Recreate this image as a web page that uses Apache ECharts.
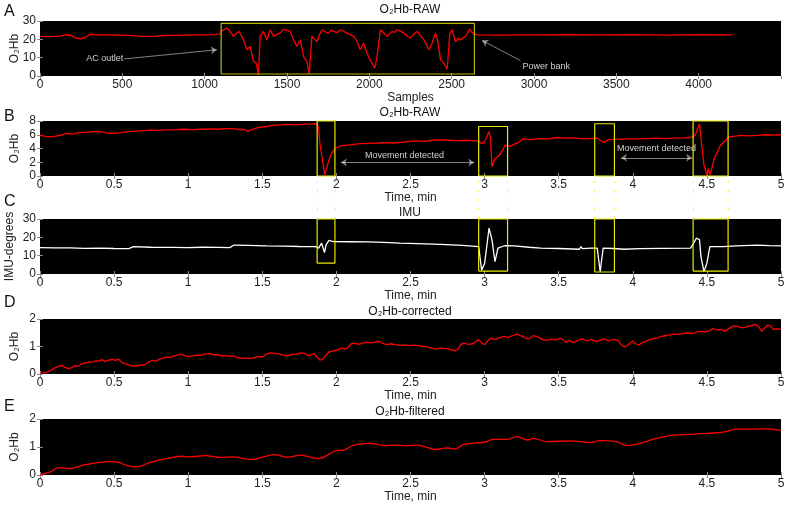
<!DOCTYPE html>
<html>
<head>
<meta charset="utf-8">
<script src="https://cdn.jsdelivr.net/npm/echarts@6/dist/echarts.min.js"></script>
<style>
  html, body { margin: 0; padding: 0; background: #fff; }
  #chart { width: 792px; height: 506px; }
</style>
</head>
<body>
<div id="chart"></div>
<script>
// panel A: raw O2Hb against sample index
const aSamples = [0, 60, 120, 160, 190, 220, 250, 280, 304, 360, 420, 480, 540, 600, 640, 700, 760, 820, 880, 940, 1000, 1060, 1090,
  1105, 1115, 1135, 1155, 1175, 1190, 1206, 1220, 1236, 1256, 1276, 1297, 1313, 1327, 1337, 1357, 1378, 1398, 1418, 1440, 1459, 1479, 1500,
  1520, 1540, 1560, 1581, 1601, 1621, 1635, 1651, 1667, 1682, 1697, 1712, 1733, 1753, 1768, 1783, 1804, 1824, 1844, 1864, 1885, 1905, 1925,
  1945, 1965, 1986, 2000, 2016, 2033, 2047, 2067, 2088, 2108, 2123, 2138, 2153, 2168, 2190, 2209, 2229, 2249, 2270, 2290, 2310, 2331, 2346,
  2361, 2381, 2401, 2416, 2432, 2452, 2473, 2489, 2503, 2523, 2540, 2554, 2570, 2584, 2598, 2610, 2622, 2634,
  2660, 2800, 3000, 3200, 3400, 3600, 3800, 4000, 4205];
const aRaw = [21.6, 21.5, 21.8, 22.5, 22.0, 20.6, 20.3, 21.3, 22.7, 22.5, 22.4, 22.3, 22.2, 21.8, 21.6, 21.8, 22.1, 22.2, 22.3, 22.4, 22.4, 22.6, 22.8,
  24.6, 25.2, 26.1, 24.3, 21.6, 23.0, 24.3, 22.5, 19.7, 14.3, 16.1, 7.9, 7.0, 0.6, 21.6, 24.3, 19.7, 25.2, 21.6, 22.8, 23.4, 25.6, 24.8,
  24.3, 19.7, 16.1, 19.7, 10.6, 7.9, 1.1, 21.6, 20.2, 18.8, 22.5, 25.2, 24.0, 23.4, 25.0, 24.3, 23.6, 25.2, 24.4, 23.4, 22.6, 21.6, 19.0,
  14.3, 17.9, 12.5, 9.5, 7.0, 4.2, 10.6, 25.2, 23.5, 21.6, 23.0, 24.3, 23.8, 25.2, 24.5, 23.4, 21.8, 20.7, 22.8, 24.3, 22.0, 19.7, 17.5,
  14.3, 17.9, 23.4, 19.0, 8.8, 7.0, 3.7, 23.4, 25.2, 18.8, 20.5, 19.7, 20.8, 21.6, 23.5, 25.6, 24.0, 22.9,
  22.4, 22.3, 22.4, 22.5, 22.4, 22.6, 22.3, 22.5, 22.4];

// panels B-E share the time axis (minutes)
const bTime = [0, 0.04, 0.07, 0.11, 0.15, 0.18, 0.22, 0.26, 0.3, 0.34, 0.38, 0.41, 0.44, 0.47, 0.51, 0.55, 0.59, 0.63, 0.67, 0.71, 0.75,
  0.8, 0.86, 0.92, 0.97, 1.03, 1.08, 1.14, 1.2, 1.25, 1.31, 1.35, 1.38, 1.4, 1.43, 1.46, 1.49, 1.53, 1.58, 1.63, 1.68, 1.72, 1.76, 1.8, 1.84,
  1.87, 1.88, 1.89, 1.91, 1.92, 1.94, 1.96, 1.99, 2.03, 2.08, 2.12, 2.16, 2.22, 2.28, 2.33, 2.38, 2.43, 2.48, 2.54, 2.59, 2.65, 2.7, 2.76,
  2.82, 2.88, 2.93, 2.96, 2.98, 3.0, 3.03, 3.04, 3.05, 3.07, 3.1, 3.14, 3.17, 3.2, 3.23, 3.26, 3.3, 3.34, 3.38, 3.43, 3.49, 3.54, 3.6,
  3.66, 3.71, 3.76, 3.8, 3.84, 3.9, 3.97, 4.04, 4.1, 4.16, 4.22, 4.28, 4.34, 4.39, 4.42, 4.45, 4.46, 4.48, 4.5, 4.51, 4.52, 4.55, 4.59,
  4.65, 4.69, 4.73, 4.78, 4.84, 4.9, 4.95, 5.0];
const bRaw = [5.9, 5.75, 5.7, 5.8, 6.0, 6.2, 6.1, 6.3, 6.35, 6.4, 6.5, 6.45, 6.3, 6.2, 6.25, 6.3, 6.45, 6.5, 6.55, 6.6, 6.7,
  6.65, 6.7, 6.75, 6.8, 6.75, 6.8, 6.85, 6.8, 6.9, 6.9, 6.7, 6.8, 6.5, 6.75, 6.95, 7.1, 7.2, 7.4, 7.45, 7.5, 7.45, 7.5, 7.55, 7.55,
  7.6, 6.9, 4.5, 1.8, 0.15, 1.6, 3.0, 4.0, 4.4, 4.5, 4.6, 4.7, 4.75, 4.8, 4.85, 4.8, 4.9, 5.0, 5.1, 5.05, 5.2, 5.25, 5.2,
  5.15, 5.2, 5.1, 5.1, 4.7, 4.96, 6.5, 5.4, 1.35, 2.5, 3.0, 4.5, 4.3, 4.6, 4.9, 5.4, 5.3, 5.4, 5.45, 5.4, 5.6, 5.5, 5.55,
  5.4, 5.45, 5.5, 4.9, 5.3, 5.35, 5.4, 5.4, 5.45, 5.5, 5.45, 5.5, 5.55, 5.6, 5.9, 7.6, 7.4, 1.6, 0.13, 1.1, 0.13, 2.5, 4.4,
  5.7, 5.8, 5.9, 5.85, 5.9, 6.0, 5.95, 6.0];

const cTime = [0, 0.1, 0.2, 0.3, 0.41, 0.5, 0.6, 0.61, 0.63, 0.75, 0.9, 0.99, 1.1, 1.2, 1.28, 1.31, 1.4, 1.53, 1.65, 1.75, 1.86,
  1.88, 1.9, 1.92, 1.93, 1.95, 1.98, 2.1, 2.21, 2.32, 2.43, 2.55, 2.7, 2.85, 2.96, 2.98, 3.0, 3.03, 3.05, 3.07, 3.09, 3.12, 3.14, 3.2,
  3.3, 3.38, 3.5, 3.64, 3.65, 3.66, 3.72, 3.76, 3.78, 3.8, 3.87, 3.94, 4.05, 4.2, 4.39, 4.43, 4.45, 4.46, 4.48, 4.5, 4.52, 4.61, 4.7,
  4.84, 4.92, 5.0];
const cImu = [14.4, 14.2, 14.3, 14.0, 14.1, 13.9, 13.8, 13.7, 14.9, 14.6, 14.5, 14.4, 14.6, 14.5, 14.4, 15.8, 15.6, 15.3, 15.2, 15.0, 14.9,
  14.1, 16.8, 11.7, 15.9, 18.3, 17.7, 17.6, 17.5, 17.2, 16.8, 16.6, 16.2, 15.6, 14.9, 2.1, 5.7, 25.0, 18.6, 6.7, 14.1, 15.0, 15.5, 15.3,
  14.6, 14.1, 13.9, 13.5, 14.9, 13.8, 14.1, 14.1, 1.3, 14.1, 13.9, 13.5, 13.8, 14.0, 14.1, 19.6, 18.6, 9.5, 1.3, 5.9, 14.9, 14.9, 15.3,
  15.8, 15.5, 15.3];

const dTime = [0, 0.03, 0.05, 0.08, 0.1, 0.12, 0.14, 0.16, 0.18, 0.2, 0.22, 0.24, 0.26, 0.28, 0.3, 0.33, 0.36, 0.38, 0.4, 0.42, 0.44,
  0.46, 0.49, 0.51, 0.53, 0.55, 0.57, 0.58, 0.6, 0.62, 0.65, 0.68, 0.7, 0.72, 0.74, 0.76, 0.78, 0.8, 0.83, 0.86, 0.88, 0.9, 0.93, 0.95,
  0.97, 1.0, 1.03, 1.06, 1.08, 1.11, 1.14, 1.17, 1.2, 1.23, 1.26, 1.29, 1.31, 1.33, 1.36, 1.39, 1.42, 1.45, 1.48, 1.5, 1.52, 1.55, 1.58,
  1.61, 1.64, 1.67, 1.7, 1.73, 1.76, 1.79, 1.81, 1.83, 1.85, 1.87, 1.89, 1.91, 1.93, 1.95, 1.98, 2.0, 2.02, 2.04, 2.06, 2.08, 2.1, 2.12,
  2.15, 2.18, 2.21, 2.24, 2.27, 2.29, 2.31, 2.34, 2.37, 2.4, 2.43, 2.46, 2.5, 2.53, 2.56, 2.6, 2.64, 2.67, 2.7, 2.74, 2.78, 2.8, 2.82,
  2.84, 2.86, 2.89, 2.92, 2.94, 2.96, 2.98, 3.0, 3.02, 3.04, 3.07, 3.1, 3.13, 3.16, 3.19, 3.22, 3.25, 3.28, 3.3, 3.33, 3.36, 3.39, 3.42,
  3.45, 3.48, 3.51, 3.53, 3.55, 3.57, 3.6, 3.63, 3.66, 3.69, 3.72, 3.75, 3.78, 3.81, 3.84, 3.87, 3.9, 3.92, 3.94, 3.96, 3.98, 4.0, 4.02,
  4.04, 4.07, 4.1, 4.13, 4.16, 4.19, 4.22, 4.25, 4.28, 4.31, 4.34, 4.37, 4.4, 4.43, 4.46, 4.49, 4.52, 4.54, 4.57, 4.6, 4.62, 4.65, 4.68,
  4.71, 4.74, 4.77, 4.8, 4.83, 4.85, 4.87, 4.89, 4.91, 4.93, 4.95, 4.97, 5.0];
const dCorrected = [0.03, 0.05, 0.08, 0.15, 0.22, 0.27, 0.31, 0.27, 0.21, 0.2, 0.26, 0.3, 0.29, 0.36, 0.4, 0.43, 0.44, 0.48, 0.47, 0.52, 0.46,
  0.5, 0.53, 0.49, 0.55, 0.42, 0.38, 0.44, 0.33, 0.29, 0.3, 0.33, 0.32, 0.38, 0.45, 0.5, 0.46, 0.52, 0.58, 0.62, 0.59, 0.65, 0.69, 0.72,
  0.68, 0.63, 0.66, 0.69, 0.68, 0.72, 0.74, 0.7, 0.7, 0.66, 0.67, 0.64, 0.66, 0.6, 0.57, 0.59, 0.56, 0.6, 0.64, 0.62, 0.7, 0.77, 0.75,
  0.73, 0.69, 0.66, 0.71, 0.72, 0.77, 0.74, 0.66, 0.7, 0.74, 0.62, 0.5, 0.55, 0.68, 0.8, 0.84, 0.87, 0.9, 0.95, 0.9, 0.97, 1.1, 1.12,
  1.08, 1.13, 1.15, 1.13, 1.18, 1.19, 1.12, 1.07, 1.1, 1.06, 1.04, 1.06, 1.03, 1.05, 1.02, 1.0, 0.95, 0.9, 0.95, 0.92, 0.88, 0.84, 0.9,
  1.08, 1.12, 1.08, 1.1, 1.17, 1.24, 1.14, 1.06, 1.2, 1.3, 1.26, 1.32, 1.36, 1.33, 1.4, 1.45, 1.38, 1.3, 1.28, 1.4, 1.35, 1.25, 1.22,
  1.27, 1.24, 1.3, 1.25, 1.15, 1.22, 1.14, 1.22, 1.28, 1.2, 1.26, 1.18, 1.22, 1.28, 1.2, 1.26, 1.22, 1.08, 0.99, 1.02, 1.12, 1.2, 1.1,
  1.06, 1.15, 1.22, 1.28, 1.3, 1.36, 1.4, 1.42, 1.46, 1.44, 1.47, 1.5, 1.47, 1.52, 1.55, 1.53, 1.58, 1.65, 1.6, 1.62, 1.55, 1.66, 1.75,
  1.72, 1.68, 1.72, 1.76, 1.8, 1.72, 1.55, 1.67, 1.78, 1.74, 1.62, 1.64, 1.63];

const eTime = [0, 0.07, 0.13, 0.2, 0.29, 0.4, 0.47, 0.52, 0.58, 0.65, 0.74, 0.86, 0.96, 1.0, 1.12, 1.22, 1.3, 1.42, 1.51, 1.58, 1.67, 1.76,
  1.85, 1.88, 2.0, 2.05, 2.12, 2.23, 2.32, 2.39, 2.47, 2.54, 2.68, 2.74, 2.8, 2.86, 3.0, 3.06, 3.15, 3.22, 3.29, 3.33, 3.42, 3.58, 3.71,
  3.78, 3.89, 3.96, 4.05, 4.16, 4.29, 4.39, 4.5, 4.61, 4.7, 4.79, 4.91, 5.0];
const eFiltered = [0.0, 0.11, 0.26, 0.23, 0.35, 0.45, 0.48, 0.47, 0.35, 0.29, 0.44, 0.59, 0.67, 0.65, 0.69, 0.63, 0.65, 0.55, 0.65, 0.73, 0.63, 0.71,
  0.6, 0.59, 0.87, 0.89, 1.07, 1.13, 1.05, 1.07, 1.04, 1.07, 0.91, 0.97, 0.93, 1.09, 1.17, 1.27, 1.27, 1.37, 1.25, 1.31, 1.19, 1.22, 1.16,
  1.23, 1.19, 1.05, 1.13, 1.31, 1.43, 1.45, 1.49, 1.53, 1.64, 1.64, 1.65, 1.59];

// movement windows (minutes) and the yellow box limits
const moveStart = [1.87, 2.96, 3.743, 4.407];
const moveEnd = [1.99, 3.155, 3.876, 4.643];
const boxTopB = [8, 7.2, 7.6, 8];
const boxBottomC = [5.9, 1.6, 1.1, 1.6];
// AC outlet window in panel A (samples, value)
const boxA = { x: [1100, 2638], y: [1.1, 28.7] };

// per-panel axis settings
const xMax = [4500, 5, 5, 5, 5];
const xStep = [500, 0.5, 0.5, 0.5, 0.5];
const xNames = ['Samples', 'Time, min', 'Time, min', 'Time, min', 'Time, min'];
const yMax = [30, 8, 30, 2, 2];
const yStep = [10, 2, 10, 1, 1];
const yNames = ['O₂Hb', 'O₂Hb', 'IMU-degrees', 'O₂Hb', 'O₂Hb'];

const textColor = '#222';
const font = 'Liberation Sans, Arial, Helvetica, sans-serif';
const grids = [
  { top: 21, height: 55 },
  { top: 121, height: 55 },
  { top: 219, height: 55 },
  { top: 319, height: 55 },
  { top: 419, height: 56 }
].map(g => ({ ...g, left: 40, right: 11, show: true, backgroundColor: '#000', borderWidth: 0, outerBoundsMode: 'none', containLabel: false }))

const tickStyle = { inside: true, length: 3, lineStyle: { color: '#8a8a8a' } }

function xAxis(gi, top) {
  return {
    type: 'value', gridIndex: gi, min: 0, max: xMax[gi], interval: xStep[gi], position: top ? 'top' : 'bottom',
    name: top ? '' : xNames[gi], nameLocation: 'middle', nameGap: 14,
    nameTextStyle: { color: textColor, fontSize: 12, fontFamily: font },
    axisLine: { show: false },
    axisTick: tickStyle,
    splitLine: { show: false },
    axisLabel: {
      show: !top, color: textColor, fontSize: 12, fontFamily: font, margin: 3, showMaxLabel: gi !== 0,
      formatter: v => String(v)
    }
  }
}

function yAxis(gi, right) {
  return {
    type: 'value', gridIndex: gi, min: 0, max: yMax[gi], interval: yStep[gi], position: right ? 'right' : 'left',
    name: right ? '' : yNames[gi], nameLocation: 'middle', nameGap: gi === 2 ? 24 : 19, nameMoveOverlap: false,
    nameTextStyle: { color: textColor, fontSize: 12, fontFamily: font },
    axisLine: { show: false },
    axisTick: tickStyle,
    splitLine: { show: false },
    axisLabel: { show: !right, color: textColor, fontSize: 12, fontFamily: font, margin: 4, formatter: v => String(v) }
  }
}

function zip(xs, ys) {
  return xs.map((x, i) => [x, ys[i]])
}

function trace(gi, xs, ys, color, smooth) {
  return {
    type: 'line', xAxisIndex: gi, yAxisIndex: gi, data: zip(xs, ys),
    showSymbol: false, smooth: smooth || false, animation: false,
    lineStyle: { color, width: 1.3 }, z: 3
  }
}

function box(gi, x0, x1, y0, y1, color) {
  return {
    type: 'line', xAxisIndex: gi, yAxisIndex: gi, showSymbol: false, animation: false, clip: false,
    data: [[x0, y0], [x1, y0], [x1, y1], [x0, y1], [x0, y0]],
    lineStyle: { color, width: 1.2 }, z: 4
  }
}

const series = [
  trace(0, aSamples, aRaw, '#ff0000'),
  trace(1, bTime, bRaw, '#ff0000'),
  trace(2, cTime, cImu, '#ffffff'),
  trace(3, dTime, dCorrected, '#ff0000'),
  trace(4, eTime, eFiltered, '#ff0000', 0.4),
  box(0, boxA.x[0], boxA.x[1], boxA.y[0], boxA.y[1], '#b8b800')
]
moveStart.forEach((s, i) => {
  series.push(box(1, s, moveEnd[i], 0, boxTopB[i], '#e8e800'))
  series.push(box(2, s, moveEnd[i], boxBottomC[i], 30, '#e8e800'))
  // dotted links from panel B down to panel C
  series.push({
    type: 'lines', coordinateSystem: 'cartesian2d', xAxisIndex: 2, yAxisIndex: 2, clip: false, animation: false,
    lineStyle: { color: '#eeee40', width: 1, type: [2, 7], opacity: 0.8 },
    data: [{ coords: [[s, 30], [s, 53.7]] }, { coords: [[moveEnd[i], 30], [moveEnd[i], 53.7]] }]
  })
})

// arrows and notes
const arrowStyle = { color: '#ffffff', width: 1 }
series.push({
  type: 'lines', coordinateSystem: 'cartesian2d', xAxisIndex: 0, yAxisIndex: 0, animation: false,
  symbol: ['none', 'arrow'], symbolSize: 6, lineStyle: arrowStyle,
  data: [{ coords: [[510, 9.3], [1074, 14.3]] }, { coords: [[2918, 8.4], [2685, 19.4]] }]
})
series.push({
  type: 'lines', coordinateSystem: 'cartesian2d', xAxisIndex: 1, yAxisIndex: 1, animation: false,
  symbol: ['arrow', 'arrow'], symbolSize: 6, lineStyle: arrowStyle,
  data: [{ coords: [[2.03, 1.98], [2.93, 1.98]] }, { coords: [[3.92, 2.65], [4.4, 2.65]] }]
})
function note(gi, x, y, text, align) {
  return {
    type: 'scatter', xAxisIndex: gi, yAxisIndex: gi, symbolSize: 0, animation: false, silent: true,
    data: [[x, y]],
    label: { show: true, position: 'inside', formatter: text, color: '#fff', fontSize: 9, fontFamily: font, align }
  }
}
series.push(note(0, 505, 9.3, 'AC outlet', 'right'))
series.push(note(0, 2930, 5.0, 'Power bank', 'left'))
series.push(note(1, 2.46, 3.0, 'Movement detected', 'center'))
series.push(note(1, 4.16, 4.0, 'Movement detected', 'center'))

function label(x, y, text, size) {
  return { type: 'text', x, y, style: { text, fill: '#111', fontSize: size, fontFamily: font, textVerticalAlign: 'middle' } }
}
const titles = [
  [10, 'O₂Hb-RAW'], [113, 'O₂Hb-RAW'], [212.5, 'IMU'], [312, 'O₂Hb-corrected'], [412, 'O₂Hb-filtered']
]

const panels = [0, 1, 2, 3, 4]
const option = {
  backgroundColor: '#fff',
  animation: false,
  grid: grids,
  xAxis: [...panels.map(gi => xAxis(gi, false)), ...panels.map(gi => xAxis(gi, true))],
  yAxis: [...panels.map(gi => yAxis(gi, false)), ...panels.map(gi => yAxis(gi, true))],
  graphic: [
    label(4, 12, 'A', 16), label(4, 117, 'B', 16), label(4, 202, 'C', 16), label(4, 303, 'D', 16), label(4, 407, 'E', 16),
    ...titles.map(([y, t]) => ({
      type: 'text', x: 410, y,
      style: { text: t, fill: '#111', fontSize: 12, fontFamily: font, textAlign: 'center', textVerticalAlign: 'middle' }
    }))
  ],
  series
}

const chart = echarts.init(document.getElementById('chart'))
chart.setOption(option)
</script>
</body>
</html>
